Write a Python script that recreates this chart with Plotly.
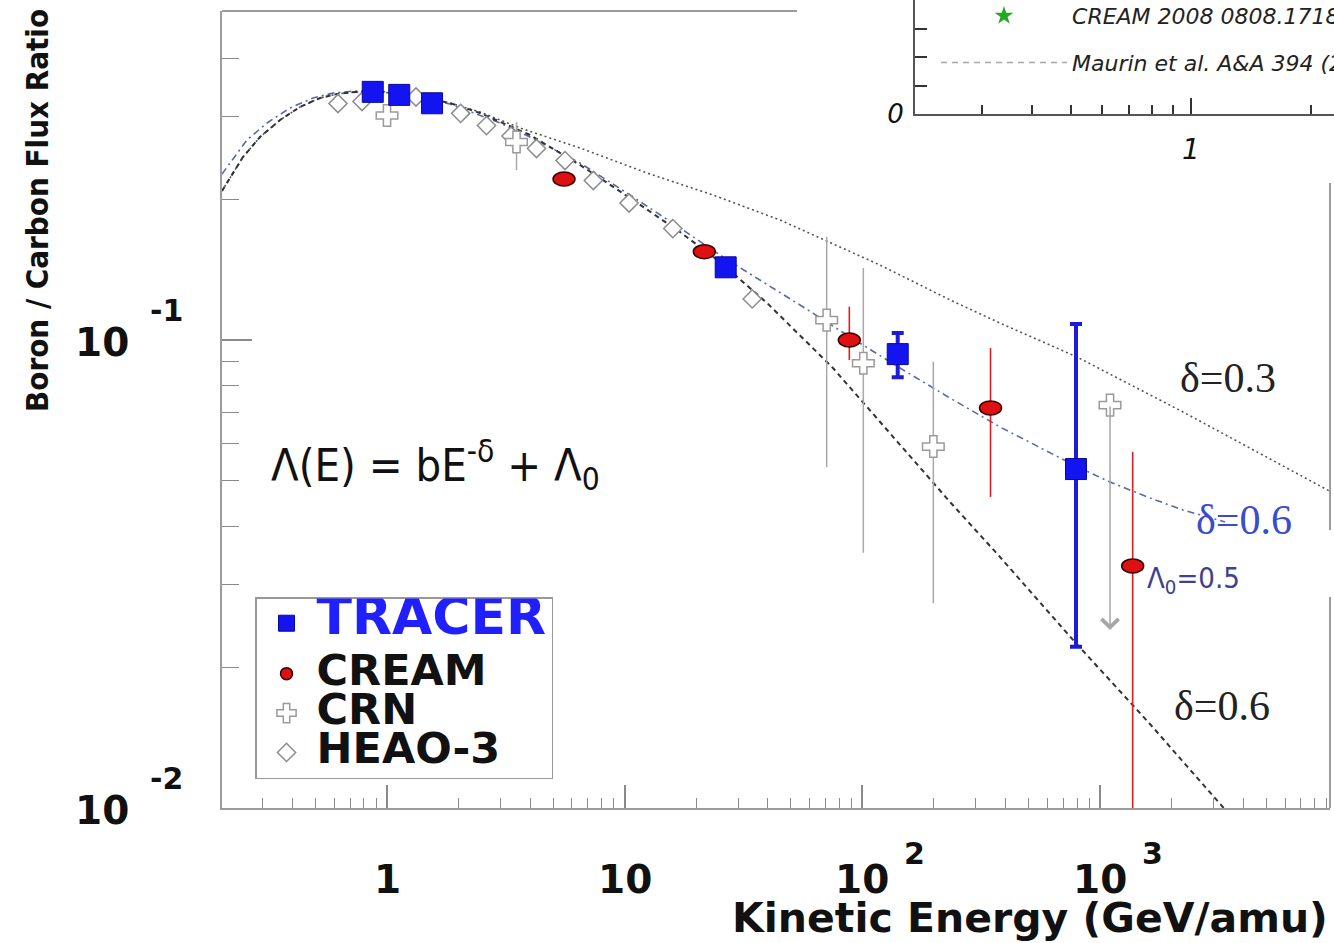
import numpy as np
import plotly.graph_objects as go

# ---------------- data ----------------
# model curves: Boron/Carbon ratio vs kinetic energy (GeV/amu)
d06_e = [0.2022, 0.2478, 0.2922, 0.3548, 0.4305, 0.5226, 0.6161, 0.7334, 0.9345, 1.250, 1.841,
         2.462, 3.995, 6.486, 10.53, 17.09, 25.17, 39.69, 75.20, 143.9, 233.7, 379.3, 769.1,
         1621, 3289, 4273]
d06_bc = [0.2082, 0.2460, 0.2715, 0.2952, 0.3147, 0.3289, 0.3354, 0.3388, 0.3388, 0.3338, 0.3209,
          0.3055, 0.2742, 0.2366, 0.2011, 0.1701, 0.1468, 0.1200, 0.08713, 0.05965, 0.04507,
          0.03438, 0.02286, 0.01512, 0.0100, 0.008627]

d03_e = [0.2022, 0.2478, 0.2922, 0.3548, 0.4305, 0.5226, 0.6161, 0.7334, 0.9345, 1.250, 1.841,
         2.462, 3.734, 6.486, 12.41, 23.52, 45.01, 118.6, 233.7, 379.3, 799.5, 2233, 9546]
d03_bc = [0.2082, 0.2460, 0.2715, 0.2952, 0.3147, 0.3289, 0.3354, 0.3388, 0.3388, 0.3338, 0.3209,
          0.3070, 0.2824, 0.2572, 0.2274, 0.2041, 0.1805, 0.1446, 0.1218, 0.1087, 0.09198,
          0.07017, 0.04711]

d06l_e = [0.2022, 0.2576, 0.3128, 0.3908, 0.4884, 0.5927, 0.7334, 0.9345, 1.250, 1.841, 2.988,
          3.995, 6.486, 10.53, 17.09, 26.68, 54.65, 88.68, 143.9, 233.7, 379.3, 791.8, 1100,
          1621, 2233, 3354]
d06l_bc = [0.2263, 0.2676, 0.2909, 0.3131, 0.3289, 0.3371, 0.3405, 0.3405, 0.3338, 0.3194, 0.2909,
           0.2715, 0.2389, 0.2041, 0.1735, 0.1490, 0.1188, 0.1015, 0.08713, 0.07517, 0.06518,
           0.05378, 0.04972, 0.04597, 0.04333, 0.04085]

# measurements
tracer_e = [0.871, 1.126, 1.547, 26.6, 140.8, 791.8]
tracer_bc = [0.339, 0.334, 0.3205, 0.143, 0.0933, 0.0530]
tracer_hi = [0.339, 0.334, 0.3205, 0.143, 0.1035, 0.1082]
tracer_lo = [0.339, 0.334, 0.3205, 0.143, 0.0833, 0.0221]

cream_e = [5.555, 21.62, 88.1, 345.9, 1371]
cream_bc = [0.2208, 0.1544, 0.1000, 0.0716, 0.0329]
cream_hi = [0.2208, 0.1544, 0.1178, 0.0961, 0.0577]
cream_lo = [0.2208, 0.1544, 0.0906, 0.0462, 0.005]

crn_e = [1.0, 3.506, 70.76, 100.9, 198.8]
crn_bc = [0.3018, 0.2649, 0.1103, 0.0892, 0.0592]
crn_hi = [0.3018, 0.2922, 0.1662, 0.1425, 0.0899]
crn_lo = [0.3018, 0.2308, 0.0535, 0.0351, 0.0274]
crn_limit_e = [1101]
crn_limit_bc = [0.0726]
crn_limit_tip = [0.024]

heao_e = [0.622, 0.785, 1.324, 2.04, 2.622, 3.324, 4.255, 5.609, 7.379, 10.43, 15.94, 34.39]
heao_bc = [0.3201, 0.3233, 0.3305, 0.305, 0.2872, 0.2728, 0.2566, 0.2418, 0.2192, 0.1962,
           0.1730, 0.1224]

xtick_vals = [1, 10, 100, 1000]
xtick_text = ["1", "10", "10", "10"]
xtick_exp = ["", "", "2", "3"]
ytick_vals = [0.01, 0.1]
ytick_exp = ["-2", "-1"]

# ---------------- figure ----------------
BOLD = "DejaVu Sans"
NARROW = "Liberation Sans Narrow, DejaVu Sans Condensed, Arial Narrow, sans-serif"
SERIF = "Liberation Serif, Times New Roman, serif"

fig = go.Figure()

fig.add_trace(go.Scatter(x=d03_e, y=d03_bc, mode="lines", showlegend=False, hoverinfo="skip",
                         line=dict(color="#555555", width=1.6, dash="2px,3px")))
fig.add_trace(go.Scatter(x=d06l_e, y=d06l_bc, mode="lines", showlegend=False, hoverinfo="skip",
                         line=dict(color="#5868a8", width=1.6, dash="7px,4px,2px,4px")))
fig.add_trace(go.Scatter(x=d06_e, y=d06_bc, mode="lines", showlegend=False, hoverinfo="skip",
                         line=dict(color="#333333", width=2, dash="5px,4px")))

fig.add_trace(go.Scatter(
    x=heao_e, y=heao_bc, mode="markers", name='<span style="font-size:43px">HEAO-3</span>',
    legendgroup="d", legendrank=4,
    marker=dict(symbol="diamond", size=14, color="white", line=dict(color="#8c8c8c", width=1.5))))

crn_plus = (np.array(crn_hi) - np.array(crn_bc)).tolist()
crn_minus = (np.array(crn_bc) - np.array(crn_lo)).tolist()
fig.add_trace(go.Scatter(
    x=crn_e, y=crn_bc, mode="markers", name='<span style="font-size:43px">CRN</span>',
    legendgroup="d", legendrank=3,
    error_y=dict(type="data", array=crn_plus, arrayminus=crn_minus, color="#a8a8a8",
                 thickness=1.5, width=0),
    marker=dict(symbol="cross", size=18, color="white", line=dict(color="#9a9a9a", width=1.5))))
fig.add_trace(go.Scatter(
    x=crn_limit_e, y=crn_limit_bc, mode="markers", showlegend=False, legendgroup="d",
    marker=dict(symbol="cross", size=18, color="white", line=dict(color="#9a9a9a", width=1.5))))

cream_plus = (np.array(cream_hi) - np.array(cream_bc)).tolist()
cream_minus = (np.array(cream_bc) - np.array(cream_lo)).tolist()
fig.add_trace(go.Scatter(
    x=cream_e, y=cream_bc, mode="markers", name='<span style="font-size:43px">CREAM</span>',
    legendgroup="d", legendrank=2,
    error_y=dict(type="data", array=cream_plus, arrayminus=cream_minus, color="#e02020",
                 thickness=1.6, width=0),
    marker=dict(symbol="circle", size=12, color="#dd1111", line=dict(color="#3a0000", width=1.5))))

tr_plus = (np.array(tracer_hi) - np.array(tracer_bc)).tolist()
tr_minus = (np.array(tracer_bc) - np.array(tracer_lo)).tolist()
fig.add_trace(go.Scatter(
    x=tracer_e, y=tracer_bc, mode="markers",
    name='<span style="color:#1f1fff;font-size:52px">TRACER</span>',
    legendgroup="t", legendrank=1,
    error_y=dict(type="data", array=tr_plus, arrayminus=tr_minus, color="#1c1cd8",
                 thickness=4, width=6),
    marker=dict(symbol="square", size=21, color="#1414f0", line=dict(color="#0a0a9a", width=1))))

# inset legend entries
fig.add_trace(go.Scatter(x=[None], y=[None], mode="markers", name="CREAM 2008 0808.1718",
                         legend="legend2", legendgroup="i1", xaxis="x2", yaxis="y2",
                         marker=dict(symbol="star", size=14, color="#22aa22")))
fig.add_trace(go.Scatter(x=[None], y=[None], mode="lines", name="Maurin et al. A&A 394 (2002) 1039",
                         legend="legend2", legendgroup="i2", xaxis="x2", yaxis="y2",
                         line=dict(color="#a8a8a8", width=1.5, dash="6px,5px")))

# CREAM ellipses (about 22 x 14 px), extents derived from the data points
ell_dx = 10 ** (11 / 237.7)
ell_dy = 10 ** (7 / 468.0)
shapes = []
for xe, yb in zip(cream_e, cream_bc):
    shapes.append(dict(type="circle", xref="x", yref="y",
                       x0=xe / ell_dx, x1=xe * ell_dx, y0=yb / ell_dy, y1=yb * ell_dy,
                       fillcolor="#dd1111", line=dict(color="#3a0000", width=1.5), layer="above"))
# frame pieces (top and right borders)
FRAME = dict(color="#9c9c9c", width=2)
shapes.append(dict(type="line", xref="paper", yref="paper", x0=0, x1=0.5171, y0=0.98639, y1=0.98639, line=FRAME))
shapes.append(dict(type="line", xref="paper", yref="paper", x0=0.9964, x1=0.9964, y0=0.7735, y1=0.3441, line=FRAME))
shapes.append(dict(type="line", xref="paper", yref="paper", x0=0.9964, x1=0.9964, y0=0.2611, y1=0.0, line=FRAME))

ann = []
# upper-limit arrows
for xe, yb, yt in zip(crn_limit_e, crn_limit_bc, crn_limit_tip):
    ann.append(dict(x=np.log10(xe), y=np.log10(yt), ax=np.log10(xe), ay=np.log10(yb),
                    xref="x", yref="y", axref="x", ayref="y", text="", showarrow=True,
                    arrowhead=4, arrowsize=2.2, arrowwidth=1.5, arrowcolor="#a6a6a6",
                    standoff=0, startstandoff=0))
# x tick labels
for v, t, e in zip(xtick_vals, xtick_text, xtick_exp):
    ann.append(dict(x=np.log10(v), y=-0.0891, xref="x", yref="paper", text=t, showarrow=False,
                    font=dict(family=BOLD, size=39, color="#111", weight="bold"),
                    xanchor="center", yanchor="middle"))
    if e:
        ann.append(dict(x=np.log10(v), y=-0.0891, xref="x", yref="paper", text=e, showarrow=False,
                        xshift=52, yshift=26,
                        font=dict(family=BOLD, size=30, color="#111", weight="bold"),
                        xanchor="center", yanchor="middle"))
# y tick labels
for v, e in zip(ytick_vals, ytick_exp):
    ann.append(dict(x=-0.1079, y=np.log10(v), xref="paper", yref="y", text="10", showarrow=False,
                    yshift=-3, font=dict(family=BOLD, size=39, color="#111", weight="bold"),
                    xanchor="center", yanchor="middle"))
    ann.append(dict(x=-0.0495, y=np.log10(v), xref="paper", yref="y", text=e, showarrow=False,
                    yshift=29, font=dict(family=BOLD, size=30, color="#111", weight="bold"),
                    xanchor="center", yanchor="middle"))
# titles
ann.append(dict(x=0.9964, y=-0.1361, xref="paper", yref="paper", text="Kinetic Energy (GeV/amu)",
                showarrow=False, xanchor="right", yanchor="middle",
                font=dict(family=BOLD, size=41, color="#111", weight="bold")))
ann.append(dict(x=-0.1664, y=0.7401, xref="paper", yref="paper", text="Boron / Carbon Flux Ratio",
                showarrow=False, textangle=-90, xanchor="center", yanchor="middle",
                font=dict(family=NARROW, size=31, color="#111", weight="bold")))
# formula and curve labels
ann.append(dict(x=0.1924, y=0.4245, xref="paper", yref="paper", xanchor="center", yanchor="middle",
                text="Λ(E) = bE<sup>-δ</sup> + Λ<sub>0</sub>", showarrow=False,
                font=dict(family=NARROW, size=45, color="#111")))
ann.append(dict(x=0.9047, y=0.5322, xref="paper", yref="paper", xanchor="center", yanchor="middle",
                text="δ=0.3", showarrow=False, font=dict(family=SERIF, size=42, color="#222")))
ann.append(dict(x=0.9191, y=0.3564, xref="paper", yref="paper", xanchor="center", yanchor="middle",
                text="δ=0.6", showarrow=False, font=dict(family=SERIF, size=42, color="#3a4bd0")))
ann.append(dict(x=0.8741, y=0.2822, xref="paper", yref="paper", xanchor="center", yanchor="middle",
                text="Λ<sub>0</sub>=0.5", showarrow=False,
                font=dict(family=NARROW, size=29, color="#404090")))
ann.append(dict(x=0.8993, y=0.1262, xref="paper", yref="paper", xanchor="center", yanchor="middle",
                text="δ=0.6", showarrow=False, font=dict(family=SERIF, size=42, color="#222")))

minor_x = [m * 10.0 ** k for k in (-1, 0, 1, 2, 3) for m in range(2, 10)]
minor_y = [m * 10.0 ** k for k in (-2,) for m in range(2, 10)] + [0.2, 0.3, 0.4]

fig.update_layout(
    width=1334, height=943,
    margin=dict(l=222, r=0, t=0, b=135, autoexpand=False),
    paper_bgcolor="white", plot_bgcolor="white",
    hovermode=False,
    shapes=shapes, annotations=ann,
    xaxis=dict(type="log", range=[-0.6942, 3.9672], domain=[0, 0.9964], anchor="y",
               showline=True, linecolor="#9c9c9c", linewidth=2, showgrid=False, zeroline=False,
               ticks="inside", tickvals=xtick_vals, ticklen=23, tickwidth=1.5, tickcolor="#8a8a8a",
               showticklabels=False,
               minor=dict(tickvals=minor_x, ticks="inside", ticklen=10, tickwidth=1.2,
                          tickcolor="#8a8a8a", showgrid=False)),
    yaxis=dict(type="log", range=[-2, -0.29701], domain=[0, 0.98639], anchor="x",
               showline=True, linecolor="#9c9c9c", linewidth=2, showgrid=False, zeroline=False,
               ticks="inside", tickvals=ytick_vals, ticklen=30, tickwidth=1.5, tickcolor="#8a8a8a",
               showticklabels=False,
               minor=dict(tickvals=minor_y, ticks="inside", ticklen=17, tickwidth=1.2,
                          tickcolor="#8a8a8a", showgrid=False)),
    xaxis2=dict(type="log", range=[-0.6917, 0.3584], domain=[0.6232, 1.0], anchor="y2",
                showline=True, linecolor="#555", linewidth=2, showgrid=False, zeroline=False,
                ticks="inside", tickvals=[1], ticktext=["1"], ticklen=16, tickwidth=2,
                tickcolor="#333", ticklabelstandoff=9,
                tickfont=dict(family="DejaVu Sans", size=28, style="italic", color="#111"),
                minor=dict(tickvals=[0.3, 0.4, 0.5, 0.6, 0.7, 0.8, 0.9, 2], ticks="inside",
                           ticklen=9, tickwidth=2, tickcolor="#333", showgrid=False)),
    yaxis2=dict(range=[0, 0.2], domain=[0.8589, 1.0], anchor="x2",
                showline=True, linecolor="#555", linewidth=2, showgrid=False, zeroline=False,
                ticks="inside", tickvals=[0, 0.05, 0.1, 0.15, 0.2], ticktext=["0", "", "", "", ""],
                ticklen=12, tickwidth=2, tickcolor="#333", ticklabelstandoff=4,
                tickfont=dict(family="DejaVu Sans", size=26, style="italic", color="#111")),
    legend=dict(x=0.0297, y=0.2611, xanchor="left", yanchor="top", bgcolor="white",
                bordercolor="#999", borderwidth=1.5, itemwidth=50, tracegroupgap=11,
                traceorder="grouped",
                font=dict(family=BOLD, size=28, color="#111", weight="bold")),
    legend2=dict(x=0.6421, y=1.0062, xanchor="left", yanchor="top", bgcolor="rgba(0,0,0,0)",
                 borderwidth=0, itemwidth=126, tracegroupgap=15, traceorder="grouped",
                 font=dict(family="DejaVu Sans", size=22, color="#222", style="italic")),
)

fig.write_html("out.html")
